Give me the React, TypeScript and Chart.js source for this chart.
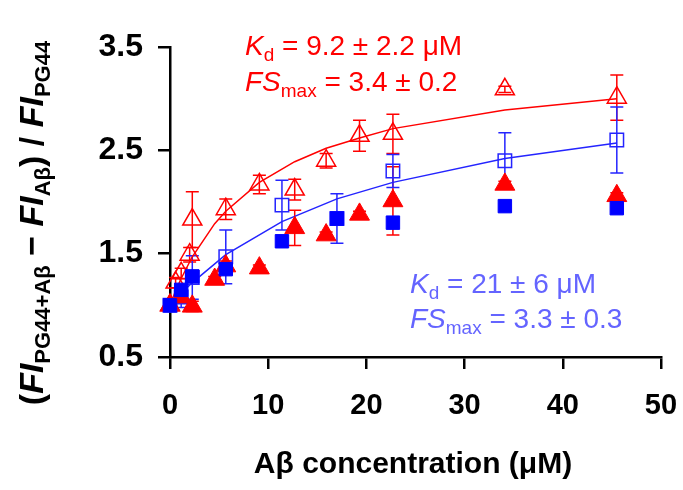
import React, { useEffect, useRef } from 'react';
import { Chart, registerables } from 'chart.js';

Chart.register(...registerables);

// ---- Data ----
const blueX = [0, 1.14, 2.27, 5.68, 11.4, 17.0, 22.7, 34.1, 45.5];
const blueFilledY = [1.0, 1.15, 1.28, 1.35, 1.62, 1.84, 1.8, 1.96, 1.94];
const blueHollowY = [1.0, 1.08, 1.27, 1.47, 1.97, 1.84, 2.3, 2.4, 2.6];
const blueHollowErr = [0.03, 0.1, 0.21, 0.26, 0.24, 0.24, 0.16, 0.27, 0.32];
const blueFitY = [1.0, 1.12, 1.22, 1.49, 1.81, 2.03, 2.19, 2.42, 2.57];

const redHollowX = [0, 0.57, 1.14, 2.0, 2.27, 5.68, 9.1, 12.7, 15.9, 19.3, 22.7, 34.1, 45.5];
const redHollowY = [1.0, 1.22, 1.31, 1.49, 1.83, 1.93, 2.17, 2.12, 2.4, 2.64, 2.66, 3.09, 3.01];
const redHollowErr = [0.03, 0.05, 0.05, 0.07, 0.27, 0.1, 0.09, 0.1, 0.07, 0.15, 0.19, 0.03, 0.22];

const redFilledX = [0, 1.14, 2.27, 4.55, 5.68, 9.1, 12.7, 15.9, 19.3, 22.7, 34.1, 45.5];
const redFilledY = [1.0, 1.08, 0.99, 1.25, 1.38, 1.36, 1.75, 1.68, 1.88, 2.01, 2.17, 2.06];
const redFilledErr = [0.02, 0.05, 0.05, 0.03, 0.05, 0.03, 0.17, 0.03, 0.03, 0.33, 0.03, 0.03];

const redFitX = [0, 0.57, 1.14, 2.27, 4.55, 5.68, 9.1, 12.7, 15.9, 19.3, 22.7, 34.1, 45.5];
const redFitY = [1.0, 1.14, 1.26, 1.47, 1.79, 1.91, 2.19, 2.39, 2.52, 2.62, 2.71, 2.89, 3.0];

const xTicks = [0, 10, 20, 30, 40, 50];
const yTicks = [0.5, 1.5, 2.5, 3.5];

const RED = '#ff0000';
const BLUE = '#0000ff';
const BLUE_LINE = '#2424ff';
const BLUE_TEXT = '#6464ff';
const FONT = '"Liberation Sans", Arial, Helvetica, sans-serif';

const pts = (xs: number[], ys: number[]) => xs.map((x, i) => ({ x, y: ys[i] }));

type Seg = { t: string; font: string; dy?: number };
function drawRich(ctx: CanvasRenderingContext2D, segs: Seg[], x: number, y: number, color: string, align: 'left' | 'center' = 'left') {
  let w = 0;
  segs.forEach((s) => {
    ctx.font = s.font;
    w += ctx.measureText(s.t).width;
  });
  let cx = align === 'center' ? x - w / 2 : x;
  ctx.fillStyle = color;
  ctx.textBaseline = 'alphabetic';
  ctx.textAlign = 'left';
  segs.forEach((s) => {
    ctx.font = s.font;
    ctx.fillText(s.t, cx, y + (s.dy || 0));
    cx += ctx.measureText(s.t).width;
  });
}

const errorBarPlugin = {
  id: 'errorBars',
  beforeDatasetsDraw(chart: any) {
    const { ctx, scales } = chart;
    const xs = scales.x;
    const ys = scales.y;
    const draw = (X: number[], Y: number[], E: number[], color: string) => {
      ctx.save();
      ctx.strokeStyle = color;
      ctx.lineWidth = 1.5;
      X.forEach((xv, i) => {
        const px = xs.getPixelForValue(xv);
        const top = ys.getPixelForValue(Y[i] + E[i]);
        const bot = ys.getPixelForValue(Y[i] - E[i]);
        ctx.beginPath();
        ctx.moveTo(px, top);
        ctx.lineTo(px, bot);
        ctx.moveTo(px - 6.5, top);
        ctx.lineTo(px + 6.5, top);
        ctx.moveTo(px - 6.5, bot);
        ctx.lineTo(px + 6.5, bot);
        ctx.stroke();
      });
      ctx.restore();
    };
    draw(redHollowX, redHollowY, redHollowErr, RED);
    draw(redFilledX, redFilledY, redFilledErr, RED);
    draw(blueX, blueHollowY, blueHollowErr, BLUE_LINE);
  },
};

const textPlugin = {
  id: 'texts',
  afterDraw(chart: any) {
    const ctx: CanvasRenderingContext2D = chart.ctx;
    ctx.save();
    // Red annotation
    drawRich(ctx, [
      { t: 'K', font: `italic 28px ${FONT}` },
      { t: 'd', font: `19px ${FONT}`, dy: 6 },
      { t: ' = 9.2 \u00b1 2.2 \u03bcM', font: `28px ${FONT}` },
    ], 245, 55, RED);
    drawRich(ctx, [
      { t: 'FS', font: `italic 28px ${FONT}` },
      { t: 'max', font: `19px ${FONT}`, dy: 6 },
      { t: ' = 3.4 \u00b1 0.2', font: `28px ${FONT}` },
    ], 245, 91, RED);
    // Blue annotation
    drawRich(ctx, [
      { t: 'K', font: `italic 28px ${FONT}` },
      { t: 'd', font: `19px ${FONT}`, dy: 6 },
      { t: ' = 21 \u00b1 6 \u03bcM', font: `28px ${FONT}` },
    ], 410, 293, BLUE_TEXT);
    drawRich(ctx, [
      { t: 'FS', font: `italic 28px ${FONT}` },
      { t: 'max', font: `19px ${FONT}`, dy: 6 },
      { t: ' = 3.3 \u00b1 0.3', font: `28px ${FONT}` },
    ], 410, 328, BLUE_TEXT);

    // X axis title
    drawRich(ctx, [{ t: 'A\u03b2 concentration (\u03bcM)', font: `bold 30px ${FONT}` }], 413, 473, '#000', 'center');

    // Y axis title (rotated)
    ctx.translate(43, 223);
    ctx.rotate(-Math.PI / 2);
    const big = `bold 34px ${FONT}`;
    const bigI = `italic bold 34px ${FONT}`;
    const sub = `bold 22px ${FONT}`;
    drawRich(ctx, [
      { t: '(', font: big },
      { t: 'FI', font: bigI },
      { t: 'PG44+A\u03b2', font: sub, dy: 7 },
      { t: ' \u2212 ', font: big },
      { t: 'FI', font: bigI },
      { t: 'A\u03b2', font: sub, dy: 7 },
      { t: ')', font: big },
      { t: ' / ', font: big },
      { t: 'FI', font: bigI },
      { t: 'PG44', font: sub, dy: 7 },
    ], 0, 0, '#000', 'center');
    ctx.restore();
  },
};

export default function App() {
  const ref = useRef<HTMLCanvasElement | null>(null);
  useEffect(() => {
    if (!ref.current) return;
    const chart = new Chart(ref.current, {
      type: 'scatter',
      data: {
        datasets: [
          {
            label: 'blue filled',
            data: pts(blueX, blueFilledY),
            pointStyle: 'rect',
            pointRadius: 9.5,
            backgroundColor: BLUE,
            borderColor: BLUE,
            borderWidth: 1,
          },
          {
            label: 'red filled',
            data: pts(redFilledX, redFilledY),
            pointStyle: 'triangle',
            pointRadius: 11.5,
            backgroundColor: RED,
            borderColor: RED,
            borderWidth: 1,
          },
          {
            label: 'blue hollow',
            data: pts(blueX, blueHollowY),
            pointStyle: 'rect',
            pointRadius: 9.5,
            backgroundColor: 'rgba(0,0,0,0)',
            borderColor: BLUE_LINE,
            borderWidth: 1.5,
          },
          {
            label: 'red hollow',
            data: pts(redHollowX, redHollowY),
            pointStyle: 'triangle',
            pointRadius: 11,
            backgroundColor: 'rgba(0,0,0,0)',
            borderColor: RED,
            borderWidth: 1.5,
          },
          {
            label: 'blue fit',
            data: pts(blueX, blueFitY),
            showLine: true,
            pointRadius: 0,
            borderColor: BLUE_LINE,
            borderWidth: 1.5,
            tension: 0,
          },
          {
            label: 'red fit',
            data: pts(redFitX, redFitY),
            showLine: true,
            pointRadius: 0,
            borderColor: RED,
            borderWidth: 1.5,
            tension: 0,
          },
        ],
      },
      options: {
        animation: false,
        responsive: false,
        events: [],
        clip: false as any,
        layout: { padding: { top: 47, right: 22, left: 0, bottom: 0 } },
        plugins: { legend: { display: false }, tooltip: { enabled: false }, title: { display: false } },
        scales: {
          x: {
            type: 'linear',
            min: 0,
            max: 50,
            afterFit: (s: any) => { s.height = 133; s.paddingRight = 0; s.paddingLeft = 0; },
            afterBuildTicks: (s: any) => { s.ticks = xTicks.map((v) => ({ value: v })); },
            ticks: { color: '#000', font: { family: FONT, size: 29, weight: 'bold' }, padding: 20, maxRotation: 0 },
            grid: { drawOnChartArea: false, drawTicks: true, tickLength: 12, color: '#000', lineWidth: 2.5 },
            border: { display: true, color: '#000', width: 2.5 },
          },
          y: {
            type: 'linear',
            min: 0.5,
            max: 3.5,
            afterFit: (s: any) => { s.width = 170; s.paddingTop = 0; s.paddingBottom = 0; },
            afterBuildTicks: (s: any) => { s.ticks = yTicks.map((v) => ({ value: v })); },
            ticks: { color: '#000', font: { family: FONT, size: 32, weight: 'bold' }, padding: 15, callback: (v: any) => Number(v).toFixed(1) },
            grid: { drawOnChartArea: false, drawTicks: true, tickLength: 12, color: '#000', lineWidth: 2.5 },
            border: { display: true, color: '#000', width: 2.5 },
          },
        },
      },
      plugins: [errorBarPlugin, textPlugin],
    });
    return () => chart.destroy();
  }, []);
  return (
    <div style={{ position: 'fixed', left: 0, top: 0, width: 683, height: 490, background: '#fff' }}>
      <canvas ref={ref} width={683} height={490} style={{ display: 'block' }} />
    </div>
  );
}
